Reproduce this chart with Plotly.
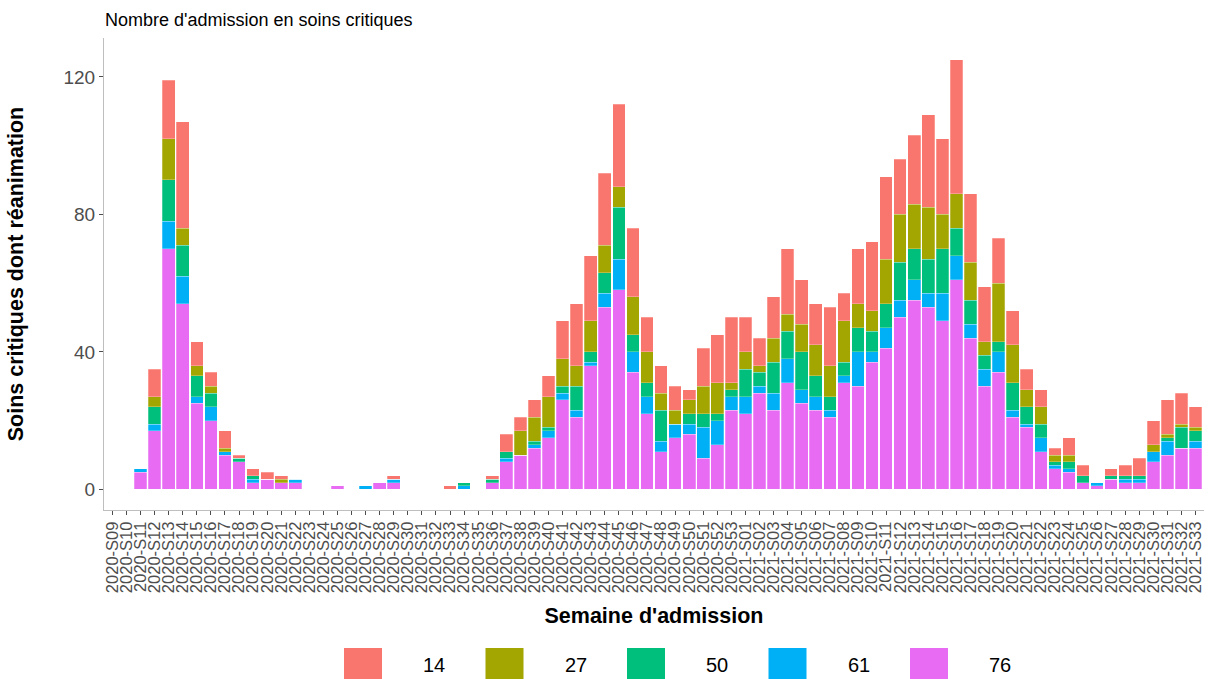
import plotly.graph_objects as go

# Weeks of admission (2020-S09 .. 2021-S33)
weeks = ["2020-S%02d" % w for w in range(9, 54)] + ["2021-S%02d" % w for w in range(1, 34)]

# Admissions per department (stack order bottom -> top: 76, 61, 50, 27, 14)
dep76 = [0, 0, 5, 17, 70, 54, 25, 20, 10, 8, 2, 3, 2, 2, 0, 0, 1, 0, 0, 2,
         2, 0, 0, 0, 0, 0, 0, 2, 8, 10, 12, 15, 26, 21, 36, 53, 58, 34, 22, 11,
         15, 16, 9, 13, 23, 22, 28, 23, 31, 25, 23, 21, 31, 30, 37, 41, 50, 55, 53, 49,
         61, 44, 30, 34, 21, 18, 11, 6, 5, 2, 1, 3, 2, 2, 8, 10, 12, 12]
dep61 = [0, 0, 1, 2, 8, 8, 2, 4, 1, 0, 1, 0, 0, 1, 0, 0, 0, 0, 1, 0,
         1, 0, 0, 0, 0, 1, 0, 0, 1, 0, 1, 2, 2, 2, 1, 4, 9, 6, 5, 3,
         4, 3, 9, 7, 4, 5, 2, 5, 7, 4, 4, 2, 2, 10, 3, 6, 5, 6, 4, 8,
         7, 4, 5, 6, 2, 1, 4, 1, 1, 0, 1, 0, 1, 1, 3, 4, 0, 2]
dep50 = [0, 0, 0, 5, 12, 9, 6, 4, 0, 1, 1, 0, 0, 0, 0, 0, 0, 0, 0, 0,
         0, 0, 0, 0, 0, 1, 0, 1, 2, 0, 1, 1, 2, 7, 3, 6, 15, 5, 4, 9,
         0, 3, 4, 2, 2, 8, 4, 9, 8, 11, 6, 4, 4, 7, 6, 7, 11, 9, 10, 13,
         8, 7, 4, 3, 8, 5, 4, 1, 2, 2, 0, 1, 1, 1, 0, 1, 6, 3]
dep27 = [0, 0, 0, 3, 12, 5, 3, 2, 1, 0, 0, 0, 1, 0, 0, 0, 0, 0, 0, 0,
         0, 0, 0, 0, 0, 0, 0, 0, 0, 7, 7, 9, 8, 6, 9, 8, 6, 11, 9, 5,
         4, 4, 8, 9, 2, 5, 2, 7, 5, 8, 9, 9, 12, 7, 6, 13, 14, 13, 15, 10,
         10, 11, 4, 17, 11, 5, 5, 2, 2, 0, 0, 0, 0, 0, 2, 1, 1, 1]
dep14 = [0, 0, 0, 8, 17, 31, 7, 4, 5, 1, 2, 2, 1, 0, 0, 0, 0, 0, 0, 0,
         1, 0, 0, 0, 1, 0, 0, 1, 5, 4, 5, 6, 11, 18, 19, 21, 24, 20, 10, 8,
         7, 3, 11, 14, 19, 10, 8, 12, 19, 13, 12, 17, 8, 16, 20, 24, 16, 20, 27, 22,
         39, 20, 16, 13, 10, 6, 5, 2, 5, 3, 0, 2, 3, 5, 7, 10, 9, 6]

series = [
    ("76", dep76, "#E76BF3"),
    ("61", dep61, "#00B0F6"),
    ("50", dep50, "#00BF7D"),
    ("27", dep27, "#A3A500"),
    ("14", dep14, "#F8766D"),
]

fig = go.Figure()
for name, vals, color in series:
    fig.add_trace(go.Bar(
        x=weeks, y=vals, name=name, showlegend=False,
        marker=dict(color=color, line=dict(color="rgba(255,255,255,0.5)", width=0.5)),
        width=0.9,
    ))

# ggplot-like legend with big keys, drawn below the panel (pixel -> paper coords)
W, H = 1211, 679
L, R, T, B = 104, 7, 38, 169
pw, ph = W - L - R, H - T - B

def px_x(x):
    return (x - L) / pw

def px_y(y):
    return (H - B - y) / ph

shapes = []
annotations = []
key_left = 344
for name, vals, color in reversed(series):
    shapes.append(dict(type="rect", xref="paper", yref="paper",
                       x0=px_x(key_left), x1=px_x(key_left + 38),
                       y0=px_y(648), y1=px_y(686),
                       fillcolor=color, line=dict(width=0)))
    annotations.append(dict(text=name, xref="paper", yref="paper",
                            x=px_x(key_left + 90), y=px_y(665),
                            xanchor="center", yanchor="middle", showarrow=False,
                            font=dict(size=20, color="black")))
    key_left += 141.5

fig.update_layout(
    barmode="stack",
    width=W, height=H,
    paper_bgcolor="white", plot_bgcolor="white",
    font=dict(family="Liberation Sans, Arial, sans-serif", color="black"),
    margin=dict(l=L, r=R, t=T, b=B, autoexpand=False),
    title=dict(text="Nombre d'admission en soins critiques", x=105 / W, xanchor="left",
               y=1 - 20 / H, yanchor="middle", font=dict(size=18, color="black")),
    shapes=shapes,
    annotations=annotations,
    showlegend=False,
)

fig.update_xaxes(
    range=[-0.6, 77.6], tickmode="array", tickvals=weeks, ticktext=weeks,
    tickangle=-90, tickfont=dict(size=16.5, color="#4D4D4D"),
    showline=True, linecolor="#BEBEBE", linewidth=1, mirror=False,
    ticks="outside", tickcolor="#4D4D4D", ticklen=4,
    showgrid=False, zeroline=False, automargin=False,
    title=dict(text="<b>Semaine d'admission</b>", font=dict(size=21.5, color="black"), standoff=15),
)
fig.update_yaxes(
    range=[-6.0, 131.3], tickvals=[0, 40, 80, 120],
    tickfont=dict(size=19, color="#4D4D4D"),
    showline=True, linecolor="#BEBEBE", linewidth=1,
    ticks="outside", tickcolor="#4D4D4D", ticklen=4,
    showgrid=False, zeroline=False, automargin=False,
    title=dict(text="<b>Soins critiques dont réanimation</b>", font=dict(size=21.5, color="black"), standoff=33),
)

fig.write_html("out.html", config={"displayModeBar": False},
               post_script="document.body.style.margin='0';document.body.style.overflow='hidden';")
